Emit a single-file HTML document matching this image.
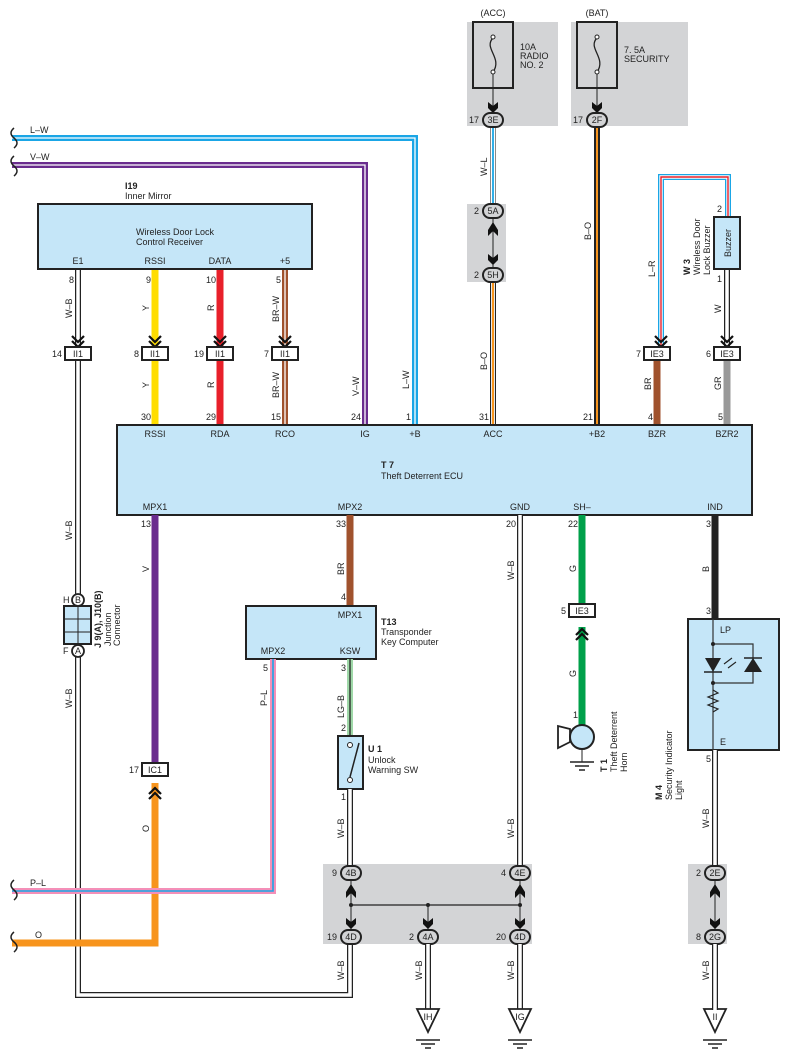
<!DOCTYPE html>
<html><head><meta charset="utf-8"><style>
html,body{margin:0;padding:0;background:#fff}
svg{display:block}
text{font-family:"Liberation Sans",sans-serif;font-size:9px;fill:#222}
.b{font-weight:bold}
</style></head><body>
<svg width="790" height="1062" viewBox="0 0 790 1062" xmlns="http://www.w3.org/2000/svg">
<defs>
<g id="chev"><polyline points="-6,-9 0,-3 6,-9" fill="none" stroke="#111" stroke-width="2.2"/><polyline points="-6,-4 0,2 6,-4" fill="none" stroke="#111" stroke-width="2.2"/></g>
<g id="arrD"><path d="M-5,-8 L0,-4 L5,-8 L5,-2 L0,3 L-5,-2Z" fill="#111"/></g>
<g id="gnd"><line x1="-12" y1="0" x2="12" y2="0" stroke="#222" stroke-width="1.5"/><line x1="-7" y1="4" x2="7" y2="4" stroke="#222" stroke-width="1.5"/><line x1="-3" y1="8" x2="3" y2="8" stroke="#222" stroke-width="1.5"/></g>
</defs>

<rect x="467" y="22" width="91" height="104" fill="#d3d4d6"/>
<rect x="571" y="22" width="117" height="104" fill="#d3d4d6"/>
<rect x="467" y="204" width="39" height="78" fill="#d3d4d6"/>
<rect x="323" y="864" width="209" height="80" fill="#d3d4d6"/>
<rect x="688" y="864" width="39" height="80" fill="#d3d4d6"/>

<path d="M12,138 H415 V425" fill="none" stroke="#1aa6e6" stroke-width="6"/>
<path d="M12,138 H415 V425" fill="none" stroke="#fff" stroke-width="1.3"/>
<path d="M12,165 H365 V425" fill="none" stroke="#6a2c8e" stroke-width="6"/>
<path d="M12,165 H365 V425" fill="none" stroke="#fff" stroke-width="1.3"/>
<text x="30" y="133">L–W</text><text x="30" y="160">V–W</text>
<path d="M14,128 q-6,5 0,10 q6,5 0,10 M14,156 q-6,5 0,10 q6,5 0,10" fill="none" stroke="#222" stroke-width="1.5"/>

<path d="M78,269 V995 H350 V944" fill="none" stroke="#222" stroke-width="6"/>
<path d="M78,269 V995 H350 V944" fill="none" stroke="#fff" stroke-width="3.5"/>
<path d="M155,269 V425" stroke="#ffdd00" stroke-width="7"/>
<path d="M220,269 V425" stroke="#e8202a" stroke-width="7"/>
<path d="M285,269 V425" stroke="#a0522d" stroke-width="6"/><path d="M285,269 V425" stroke="#fff" stroke-width="1.3"/>

<rect x="38" y="204" width="274" height="65" fill="#c5e6f8" stroke="#222" stroke-width="2"/>
<text x="125" y="189" class="b">I19</text><text x="125" y="199">Inner Mirror</text>
<text x="136" y="235">Wireless Door Lock</text><text x="136" y="245">Control Receiver</text>
<text x="78" y="264" text-anchor="middle">E1</text><text x="155" y="264" text-anchor="middle">RSSI</text>
<text x="220" y="264" text-anchor="middle">DATA</text><text x="285" y="264" text-anchor="middle">+5</text>
<text x="74" y="283" text-anchor="end">8</text><text x="151" y="283" text-anchor="end">9</text>
<text x="216" y="283" text-anchor="end">10</text><text x="281" y="283" text-anchor="end">5</text>
<g font-size="9">
<text transform="translate(72,318) rotate(-90)">W–B</text>
<text transform="translate(149,311) rotate(-90)">Y</text>
<text transform="translate(214,311) rotate(-90)">R</text>
<text transform="translate(279,322) rotate(-90)">BR–W</text>
<text transform="translate(149,388) rotate(-90)">Y</text>
<text transform="translate(214,388) rotate(-90)">R</text>
<text transform="translate(279,398) rotate(-90)">BR–W</text>
<text transform="translate(359,396) rotate(-90)">V–W</text>
<text transform="translate(409,389) rotate(-90)">L–W</text>
</g>
<g>
<use href="#chev" x="78" y="345"/><use href="#chev" x="155" y="345"/><use href="#chev" x="220" y="345"/><use href="#chev" x="285" y="345"/>
<rect x="65" y="347" width="26" height="13" fill="#fff" stroke="#222" stroke-width="2"/><text x="78" y="357" text-anchor="middle">II1</text>
<rect x="142" y="347" width="26" height="13" fill="#fff" stroke="#222" stroke-width="2"/><text x="155" y="357" text-anchor="middle">II1</text>
<rect x="207" y="347" width="26" height="13" fill="#fff" stroke="#222" stroke-width="2"/><text x="220" y="357" text-anchor="middle">II1</text>
<rect x="272" y="347" width="26" height="13" fill="#fff" stroke="#222" stroke-width="2"/><text x="285" y="357" text-anchor="middle">II1</text>
<text x="62" y="357" text-anchor="end">14</text><text x="139" y="357" text-anchor="end">8</text><text x="204" y="357" text-anchor="end">19</text><text x="269" y="357" text-anchor="end">7</text>
</g>
<text x="151" y="420" text-anchor="end">30</text><text x="216" y="420" text-anchor="end">29</text><text x="281" y="420" text-anchor="end">15</text><text x="361" y="420" text-anchor="end">24</text><text x="411" y="420" text-anchor="end">1</text>

<rect x="473" y="22" width="40" height="66" fill="none" stroke="#222" stroke-width="2"/>
<rect x="577" y="22" width="40" height="66" fill="none" stroke="#222" stroke-width="2"/>
<path d="M493,38 c-10,10 10,20 0,34" fill="none" stroke="#222" stroke-width="1.3"/><circle cx="493" cy="37" r="2" fill="#fff" stroke="#222"/><circle cx="493" cy="72" r="2" fill="#fff" stroke="#222"/>
<path d="M597,38 c-10,10 10,20 0,34" fill="none" stroke="#222" stroke-width="1.3"/><circle cx="597" cy="37" r="2" fill="#fff" stroke="#222"/><circle cx="597" cy="72" r="2" fill="#fff" stroke="#222"/>
<line x1="493" y1="74" x2="493" y2="110" stroke="#222"/><line x1="597" y1="74" x2="597" y2="110" stroke="#222"/>
<use href="#arrD" x="493" y="110"/><use href="#arrD" x="597" y="110"/>
<text x="493" y="16" text-anchor="middle">(ACC)</text><text x="597" y="16" text-anchor="middle">(BAT)</text>
<text x="520" y="50">10A</text><text x="520" y="59">RADIO</text><text x="520" y="68">NO. 2</text>
<text x="624" y="53">7. 5A</text><text x="624" y="62">SECURITY</text>

<path d="M493,126 V205" stroke="#888" stroke-width="6"/><path d="M493,126 V205" stroke="#fff" stroke-width="4"/><path d="M493,126 V205" stroke="#1aa6e6" stroke-width="1.8"/>
<line x1="493" y1="218" x2="493" y2="268" stroke="#222"/>
<path d="M488,230 L493,222 L498,230 L498,236 L493,231 L488,236Z" fill="#111"/>
<use href="#arrD" x="493" y="262"/>
<path d="M493,282 V425" stroke="#222" stroke-width="6"/><path d="M493,282 V425" stroke="#fff" stroke-width="3.8"/><path d="M493,282 V425" stroke="#f7941d" stroke-width="2"/>
<path d="M597,126 V425" stroke="#222" stroke-width="6"/><path d="M597,126 V425" stroke="#f7941d" stroke-width="2"/>
<g>
<rect x="483" y="113" width="20" height="14" rx="7" fill="#d3d4d6" stroke="#222" stroke-width="2"/><text x="493" y="123" text-anchor="middle">3E</text>
<rect x="587" y="113" width="20" height="14" rx="7" fill="#d3d4d6" stroke="#222" stroke-width="2"/><text x="597" y="123" text-anchor="middle">2F</text>
<rect x="483" y="204" width="20" height="14" rx="7" fill="#d3d4d6" stroke="#222" stroke-width="2"/><text x="493" y="214" text-anchor="middle">5A</text>
<rect x="483" y="268" width="20" height="14" rx="7" fill="#d3d4d6" stroke="#222" stroke-width="2"/><text x="493" y="278" text-anchor="middle">5H</text>
<text x="479" y="123" text-anchor="end">17</text><text x="583" y="123" text-anchor="end">17</text>
<text x="479" y="214" text-anchor="end">2</text><text x="479" y="278" text-anchor="end">2</text>
</g>
<text transform="translate(487,176) rotate(-90)">W–L</text>
<text transform="translate(487,370) rotate(-90)">B–O</text>
<text transform="translate(591,240) rotate(-90)">B–O</text>
<text x="489" y="420" text-anchor="end">31</text><text x="593" y="420" text-anchor="end">21</text>

<path d="M661,347 V177 H728 V217" fill="none" stroke="#1aa6e6" stroke-width="6"/>
<path d="M661,347 V177 H728 V217" fill="none" stroke="#fff" stroke-width="3.4"/>
<path d="M661,347 V177 H728 V217" fill="none" stroke="#e8202a" stroke-width="1.4"/>
<path d="M727,269 V347" stroke="#222" stroke-width="6"/><path d="M727,269 V347" stroke="#fff" stroke-width="3.5"/>
<rect x="714" y="217" width="26" height="52" fill="#c5e6f8" stroke="#222" stroke-width="2"/>
<text transform="translate(731,257) rotate(-90)">Buzzer</text>
<text x="722" y="212" text-anchor="end">2</text><text x="722" y="282" text-anchor="end">1</text>
<text transform="translate(690,275) rotate(-90)" class="b">W 3</text>
<text transform="translate(700,275) rotate(-90)">Wireless Door</text>
<text transform="translate(710,275) rotate(-90)">Lock Buzzer</text>
<text transform="translate(655,277) rotate(-90)">L–R</text>
<text transform="translate(721,313) rotate(-90)">W</text>
<use href="#chev" x="661" y="345"/><use href="#chev" x="727" y="345"/>
<path d="M657,360 V425" stroke="#a0522d" stroke-width="7"/>
<path d="M727,360 V425" stroke="#999" stroke-width="7"/>
<rect x="644" y="347" width="26" height="13" fill="#fff" stroke="#222" stroke-width="2"/><text x="657" y="357" text-anchor="middle">IE3</text>
<rect x="714" y="347" width="26" height="13" fill="#fff" stroke="#222" stroke-width="2"/><text x="727" y="357" text-anchor="middle">IE3</text>
<text x="641" y="357" text-anchor="end">7</text><text x="711" y="357" text-anchor="end">6</text>
<text transform="translate(651,390) rotate(-90)">BR</text><text transform="translate(721,390) rotate(-90)">GR</text>
<text x="653" y="420" text-anchor="end">4</text><text x="723" y="420" text-anchor="end">5</text>

<rect x="117" y="425" width="635" height="90" fill="#c5e6f8" stroke="#222" stroke-width="2"/>
<g text-anchor="middle">
<text x="155" y="437">RSSI</text><text x="220" y="437">RDA</text><text x="285" y="437">RCO</text><text x="365" y="437">IG</text><text x="415" y="437">+B</text><text x="493" y="437">ACC</text><text x="597" y="437">+B2</text><text x="657" y="437">BZR</text><text x="727" y="437">BZR2</text>
<text x="155" y="510">MPX1</text><text x="350" y="510">MPX2</text><text x="520" y="510">GND</text><text x="582" y="510">SH–</text><text x="715" y="510">IND</text>
</g>
<text x="381" y="468" class="b">T 7</text><text x="381" y="479">Theft Deterrent ECU</text>

<path d="M155,515 V763" stroke="#6a2c8e" stroke-width="7"/>
<path d="M155,783 V943 H12" fill="none" stroke="#f7941d" stroke-width="7"/>
<rect x="142" y="763" width="26" height="13" fill="#fff" stroke="#222" stroke-width="2"/><text x="155" y="773" text-anchor="middle">IC1</text>
<text x="139" y="773" text-anchor="end">17</text>
<g transform="translate(155,790) scale(1,-1)"><use href="#chev"/></g>
<text x="151" y="527" text-anchor="end">13</text>
<text transform="translate(149,572) rotate(-90)">V</text>
<text transform="translate(149,832) rotate(-90)">O</text>
<text x="35" y="938">O</text>
<path d="M14,932 q-6,5 0,10 q6,5 0,10" fill="none" stroke="#222" stroke-width="1.5"/>

<rect x="64" y="606" width="27" height="38" fill="#c5e6f8" stroke="#222" stroke-width="2"/>
<line x1="78" y1="606" x2="78" y2="644" stroke="#222"/><line x1="64" y1="619" x2="91" y2="619" stroke="#222"/><line x1="64" y1="632" x2="91" y2="632" stroke="#222"/>
<circle cx="78" cy="600" r="6" fill="#fff" stroke="#222" stroke-width="1.8"/><text x="78" y="603" text-anchor="middle">B</text>
<circle cx="78" cy="651" r="6" fill="#fff" stroke="#222" stroke-width="1.8"/><text x="78" y="654" text-anchor="middle">A</text>
<text x="63" y="603">H</text><text x="63" y="654">F</text>
<text transform="translate(101,648) rotate(-90)" class="b">J 9(A), J10(B)</text>
<text transform="translate(111,646) rotate(-90)">Junction</text>
<text transform="translate(120,646) rotate(-90)">Connector</text>
<text transform="translate(72,540) rotate(-90)">W–B</text>
<text transform="translate(72,708) rotate(-90)">W–B</text>

<path d="M350,515 V606" stroke="#a0522d" stroke-width="7"/>
<text x="346" y="527" text-anchor="end">33</text><text x="346" y="600" text-anchor="end">4</text>
<text transform="translate(344,575) rotate(-90)">BR</text>
<rect x="246" y="606" width="130" height="53" fill="#c5e6f8" stroke="#222" stroke-width="2"/>
<text x="350" y="618" text-anchor="middle">MPX1</text><text x="273" y="654" text-anchor="middle">MPX2</text><text x="350" y="654" text-anchor="middle">KSW</text>
<text x="381" y="625" class="b">T13</text><text x="381" y="635">Transponder</text><text x="381" y="645">Key Computer</text>
<path d="M273,659 V891 H12" fill="none" stroke="#f48fb8" stroke-width="6"/>
<path d="M273,659 V891 H12" fill="none" stroke="#1aa6e6" stroke-width="1.6"/>
<text x="30" y="886">P–L</text>
<path d="M14,880 q-6,5 0,10 q6,5 0,10" fill="none" stroke="#222" stroke-width="1.5"/>
<text x="268" y="671" text-anchor="end">5</text>
<text transform="translate(267,706) rotate(-90)">P–L</text>
<path d="M350,659 V736" stroke="#9fd8a8" stroke-width="6"/><path d="M350,659 V736" stroke="#222" stroke-width="1.3"/>
<text x="346" y="671" text-anchor="end">3</text><text x="346" y="731" text-anchor="end">2</text>
<text transform="translate(344,718) rotate(-90)">LG–B</text>
<rect x="338" y="736" width="25" height="53" fill="#c5e6f8" stroke="#222" stroke-width="2"/>
<circle cx="350" cy="745" r="2.5" fill="#fff" stroke="#222"/><circle cx="350" cy="780" r="2.5" fill="#fff" stroke="#222"/>
<line x1="350" y1="777" x2="359" y2="743" stroke="#222" stroke-width="1.5"/>
<text x="368" y="752" class="b">U 1</text><text x="368" y="763">Unlock</text><text x="368" y="773">Warning SW</text>
<path d="M350,789 V866" stroke="#222" stroke-width="6"/><path d="M350,789 V866" stroke="#fff" stroke-width="3.5"/>
<text x="346" y="800" text-anchor="end">1</text>
<text transform="translate(344,838) rotate(-90)">W–B</text>

<path d="M520,515 V866" stroke="#222" stroke-width="6"/><path d="M520,515 V866" stroke="#fff" stroke-width="3.5"/>
<text x="516" y="527" text-anchor="end">20</text>
<text transform="translate(514,580) rotate(-90)">W–B</text>
<text transform="translate(514,838) rotate(-90)">W–B</text>

<line x1="351" y1="880" x2="351" y2="930" stroke="#222"/><line x1="520" y1="880" x2="520" y2="930" stroke="#222"/>
<line x1="351" y1="905" x2="520" y2="905" stroke="#222" stroke-width="1.3"/><line x1="428" y1="905" x2="428" y2="930" stroke="#222"/>
<circle cx="351" cy="905" r="2" fill="#222"/><circle cx="428" cy="905" r="2" fill="#222"/><circle cx="520" cy="905" r="2" fill="#222"/>
<path d="M346,892 L351,884 L356,892 L356,898 L351,893 L346,898Z" fill="#111"/>
<path d="M515,892 L520,884 L525,892 L525,898 L520,893 L515,898Z" fill="#111"/>
<use href="#arrD" x="351" y="926"/><use href="#arrD" x="428" y="926"/><use href="#arrD" x="520" y="926"/>
<g>
<rect x="341" y="866" width="20" height="14" rx="7" fill="#d3d4d6" stroke="#222" stroke-width="2"/><text x="351" y="876" text-anchor="middle">4B</text>
<rect x="510" y="866" width="20" height="14" rx="7" fill="#d3d4d6" stroke="#222" stroke-width="2"/><text x="520" y="876" text-anchor="middle">4E</text>
<rect x="341" y="930" width="20" height="14" rx="7" fill="#d3d4d6" stroke="#222" stroke-width="2"/><text x="351" y="940" text-anchor="middle">4D</text>
<rect x="418" y="930" width="20" height="14" rx="7" fill="#d3d4d6" stroke="#222" stroke-width="2"/><text x="428" y="940" text-anchor="middle">4A</text>
<rect x="510" y="930" width="20" height="14" rx="7" fill="#d3d4d6" stroke="#222" stroke-width="2"/><text x="520" y="940" text-anchor="middle">4D</text>
<text x="337" y="876" text-anchor="end">9</text><text x="506" y="876" text-anchor="end">4</text>
<text x="337" y="940" text-anchor="end">19</text><text x="414" y="940" text-anchor="end">2</text><text x="506" y="940" text-anchor="end">20</text>
</g>
<text transform="translate(344,980) rotate(-90)">W–B</text>
<path d="M428,944 V1010" stroke="#222" stroke-width="6"/><path d="M428,944 V1010" stroke="#fff" stroke-width="3.5"/>
<path d="M520,944 V1010" stroke="#222" stroke-width="6"/><path d="M520,944 V1010" stroke="#fff" stroke-width="3.5"/>
<text transform="translate(422,980) rotate(-90)">W–B</text><text transform="translate(514,980) rotate(-90)">W–B</text>

<path d="M417,1009 H439 L428,1032Z" fill="#fff" stroke="#222" stroke-width="1.8"/><text x="428" y="1020" text-anchor="middle" font-size="8">IH</text>
<path d="M509,1009 H531 L520,1032Z" fill="#fff" stroke="#222" stroke-width="1.8"/><text x="520" y="1020" text-anchor="middle" font-size="8">IG</text>
<path d="M704,1009 H726 L715,1032Z" fill="#fff" stroke="#222" stroke-width="1.8"/><text x="715" y="1020" text-anchor="middle" font-size="8">II</text>
<use href="#gnd" x="428" y="1040"/><use href="#gnd" x="520" y="1040"/><use href="#gnd" x="715" y="1040"/>

<path d="M582,515 V604" stroke="#00a04a" stroke-width="7"/>
<path d="M582,627 V726" stroke="#00a04a" stroke-width="7"/>
<rect x="569" y="604" width="26" height="13" fill="#fff" stroke="#222" stroke-width="2"/><text x="582" y="614" text-anchor="middle">IE3</text>
<text x="566" y="614" text-anchor="end">5</text>
<g transform="translate(582,631) scale(1,-1)"><use href="#chev"/></g>
<text x="578" y="527" text-anchor="end">22</text><text x="578" y="718" text-anchor="end">1</text>
<text transform="translate(576,572) rotate(-90)">G</text><text transform="translate(576,677) rotate(-90)">G</text>
<path d="M570,729 L558,726 L558,748 L570,742Z" fill="#fff" stroke="#222" stroke-width="1.8"/>
<circle cx="582" cy="737" r="12" fill="#c5e6f8" stroke="#222" stroke-width="2"/>
<line x1="582" y1="749" x2="582" y2="762" stroke="#222"/>
<use href="#gnd" x="582" y="762"/>
<text transform="translate(607,772) rotate(-90)" class="b">T 1</text>
<text transform="translate(617,772) rotate(-90)">Theft Deterrent</text>
<text transform="translate(627,772) rotate(-90)">Horn</text>

<path d="M715,515 V619" stroke="#222" stroke-width="7"/>
<text x="711" y="527" text-anchor="end">3</text><text x="711" y="614" text-anchor="end">3</text>
<text transform="translate(709,572) rotate(-90)">B</text>
<rect x="688" y="619" width="91" height="131" fill="#c5e6f8" stroke="#222" stroke-width="2"/>
<line x1="713" y1="619" x2="713" y2="750" stroke="#333" stroke-width="1.2"/>
<path d="M713,644 H753 V683 H713" fill="none" stroke="#333" stroke-width="1.2"/>
<circle cx="713" cy="644" r="2" fill="#222"/><circle cx="713" cy="683" r="2" fill="#222"/>
<path d="M705,658 H721 L713,672Z" fill="#222"/><line x1="704" y1="672" x2="722" y2="672" stroke="#222" stroke-width="1.5"/>
<path d="M744,672 H762 L753,658Z" fill="#222"/><line x1="744" y1="658" x2="762" y2="658" stroke="#222" stroke-width="1.5"/>
<path d="M724,664 l8,-6 M728,668 l8,-6" stroke="#222" stroke-width="1.1"/>
<path d="M713,690 l5,3 l-10,4 l10,4 l-10,4 l10,4 l-5,3" fill="none" stroke="#222" stroke-width="1.2"/>
<text x="720" y="633">LP</text><text x="720" y="745">E</text>
<text transform="translate(662,800) rotate(-90)" class="b">M 4</text>
<text transform="translate(672,800) rotate(-90)">Security Indicator</text>
<text transform="translate(682,800) rotate(-90)">Light</text>
<path d="M715,750 V866" stroke="#222" stroke-width="6"/><path d="M715,750 V866" stroke="#fff" stroke-width="3.5"/>
<text x="711" y="762" text-anchor="end">5</text>
<text transform="translate(709,828) rotate(-90)">W–B</text>
<line x1="715" y1="880" x2="715" y2="930" stroke="#222"/>
<path d="M710,892 L715,884 L720,892 L720,898 L715,893 L710,898Z" fill="#111"/>
<use href="#arrD" x="715" y="926"/>
<rect x="705" y="866" width="20" height="14" rx="7" fill="#d3d4d6" stroke="#222" stroke-width="2"/><text x="715" y="876" text-anchor="middle">2E</text>
<rect x="705" y="930" width="20" height="14" rx="7" fill="#d3d4d6" stroke="#222" stroke-width="2"/><text x="715" y="940" text-anchor="middle">2G</text>
<text x="701" y="876" text-anchor="end">2</text><text x="701" y="940" text-anchor="end">8</text>
<path d="M715,944 V1010" stroke="#222" stroke-width="6"/><path d="M715,944 V1010" stroke="#fff" stroke-width="3.5"/>
<text transform="translate(709,980) rotate(-90)">W–B</text>
</svg>
</body></html>
